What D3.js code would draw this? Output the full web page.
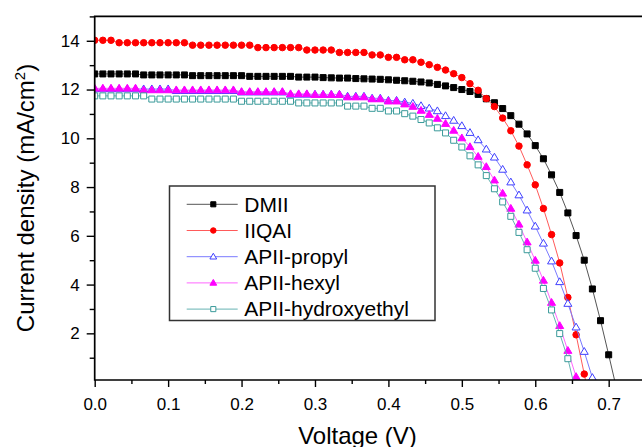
<!DOCTYPE html>
<html><head><meta charset="utf-8">
<script src="https://cdn.jsdelivr.net/npm/d3@7"></script>
<style>body{margin:0;background:#fff}svg{display:block}</style>
</head><body><svg id="c" width="642" height="447"></svg>
<script>
const voltage = [0, 0.0111, 0.0222, 0.0333, 0.0444, 0.0556, 0.0667, 0.0778, 0.0889, 0.1000,
  0.1111, 0.1222, 0.1333, 0.1444, 0.1556, 0.1667, 0.1778, 0.1889, 0.2000,
  0.2111, 0.2222, 0.2333, 0.2444, 0.2556, 0.2667, 0.2778, 0.2889, 0.3000,
  0.3111, 0.3222, 0.3333, 0.3444, 0.3556, 0.3667, 0.3778, 0.3889, 0.4000,
  0.4111, 0.4222, 0.4333, 0.4444, 0.4556, 0.4667, 0.4778, 0.4889, 0.5000,
  0.5111, 0.5222, 0.5333, 0.5444, 0.5556, 0.5667, 0.5778, 0.5889, 0.6000,
  0.6111, 0.6222, 0.6333, 0.6444, 0.6556, 0.6667, 0.6778, 0.6889, 0.7000, 0.7111];

const seriesNames = ["DMII", "IIQAI", "APII-propyl", "APII-hexyl", "APII-hydroxyethyl"];

const dmii = [12.64, 12.64, 12.64, 12.64, 12.64, 12.64,
  12.60, 12.60, 12.60, 12.60, 12.60, 12.60,
  12.57, 12.57, 12.57, 12.57, 12.57, 12.57, 12.57,
  12.54, 12.54, 12.54, 12.54, 12.54, 12.54,
  12.51, 12.51, 12.51,
  12.49, 12.48, 12.47, 12.47, 12.45, 12.44, 12.43, 12.42, 12.40, 12.38, 12.36, 12.34,
  12.31, 12.27, 12.21, 12.15, 12.08, 12.00, 11.92, 11.80, 11.62, 11.46, 11.22, 10.93,
  10.58, 10.18, 9.70, 9.16, 8.50, 7.78, 6.94, 6.01, 5.00, 3.82, 2.52, 1.12, -0.32];

const iiqai = [14.02, 14.02, 14.02,
  13.92, 13.92, 13.92, 13.92, 13.92, 13.92, 13.92, 13.92, 13.92,
  13.82, 13.82, 13.82, 13.82, 13.82, 13.82, 13.82, 13.82,
  13.72, 13.72, 13.72, 13.72, 13.72, 13.72,
  13.62, 13.62, 13.62, 13.62,
  13.52, 13.52, 13.52, 13.52,
  13.42, 13.42, 13.32, 13.32, 13.22, 13.22,
  13.12, 13.02, 12.91, 12.80, 12.65, 12.49, 12.24, 11.97, 11.63, 11.30, 10.83, 10.31,
  9.68, 8.91, 8.09, 7.12, 6.05, 4.89, 3.47, 1.94, 0.33, -1.30];

const propyl = [12.02, 12.02, 12.02, 12.02, 12.02, 12.02, 12.02, 12.02, 12.02, 12.02,
  11.95, 11.95, 11.95, 11.95, 11.95, 11.95, 11.95, 11.95,
  11.89, 11.89, 11.89, 11.89, 11.89, 11.89,
  11.80, 11.80, 11.80, 11.80, 11.80, 11.80, 11.80,
  11.72, 11.72, 11.72, 11.64, 11.64, 11.55, 11.55,
  11.48, 11.43, 11.33, 11.23, 11.12, 10.92, 10.73, 10.51, 10.23, 9.93, 9.55, 9.22,
  8.72, 8.20, 7.67, 7.05, 6.39, 5.69, 4.96, 4.11, 3.22, 2.25, 1.25, 0.18, -0.95];

const hexyl = [12.05, 12.05, 12.05, 12.05, 12.05, 12.05,
  11.98, 11.98, 11.98, 11.98, 11.98, 11.98, 11.98, 11.98, 11.98, 11.98, 11.98, 11.98,
  11.91, 11.91, 11.91, 11.91, 11.91, 11.91,
  11.82, 11.82, 11.82, 11.79, 11.79, 11.79, 11.79,
  11.69, 11.69, 11.69, 11.61, 11.61, 11.52, 11.52,
  11.40, 11.30, 11.14, 10.97, 10.81, 10.60, 10.32, 10.01, 9.65, 9.25, 8.83, 8.28,
  7.74, 7.12, 6.47, 5.74, 4.99, 4.17, 3.26, 2.31, 1.29, 0.22, -0.90];

const hydroxyethyl = [11.74, 11.74, 11.74, 11.74, 11.74, 11.74, 11.74,
  11.61, 11.61, 11.61, 11.61, 11.61, 11.61, 11.61, 11.61, 11.61, 11.61, 11.61,
  11.52, 11.52, 11.52, 11.52, 11.52, 11.52, 11.52,
  11.45, 11.45, 11.45, 11.45, 11.45, 11.45,
  11.32, 11.32, 11.32, 11.23, 11.23, 11.12, 11.12,
  11.01, 10.91, 10.77, 10.63, 10.43, 10.22, 9.92, 9.64, 9.28, 8.91, 8.47, 7.93,
  7.39, 6.80, 6.14, 5.43, 4.67, 3.84, 2.96, 1.99, 0.96, -0.45];

const xTickLabels = [0.0, 0.1, 0.2, 0.3, 0.4, 0.5, 0.6, 0.7];
const xMinorTicks = [0.05, 0.15, 0.25, 0.35, 0.45, 0.55, 0.65, 0.75];
const yTickLabels = [2, 4, 6, 8, 10, 12, 14];
const yMinorTicks = [1, 3, 5, 7, 9, 11, 13, 15];

const styles = [
  {shape: "square", fill: "#000", stroke: "#000", line: "#555", size: 6},
  {shape: "circle", fill: "#ff0000", stroke: "#ff0000", line: "#ff5a5a", size: 6.5},
  {shape: "triangle", fill: "#fff", stroke: "#4040ff", line: "#7a7aff", size: 8},
  {shape: "triangle", fill: "#ff00ff", stroke: "#ff00ff", line: "#ff66ff", size: 8},
  {shape: "square", fill: "#fff", stroke: "#3a9a9a", line: "#66b3b3", size: 6}
];
const allSeries = [dmii, iiqai, propyl, hexyl, hydroxyethyl];

const svg = d3.select("#c");
const x = d3.scaleLinear().domain([0, 0.75]).range([94.7, 645.4]);
const y = d3.scaleLinear().domain([0, 15]).range([382.1, 16.4]);
const plotBottom = 380;
const font = "'Liberation Sans', Arial, sans-serif";

svg.append("defs").append("clipPath").attr("id", "clip")
  .append("rect").attr("x", x(0)).attr("y", y(15)).attr("width", 600).attr("height", plotBottom - y(15));

function markerPath(shape, s) {
  if (shape === "square") return `M${-s/2},${-s/2}h${s}v${s}h${-s}Z`;
  if (shape === "triangle") { const h = s * 0.85; return `M0,${-h*0.6}L${s/2},${h*0.4}L${-s/2},${h*0.4}Z`; }
  return d3.symbol(d3.symbolCircle, Math.PI * (s/2) * (s/2))();
}

const plot = svg.append("g").attr("clip-path", "url(#clip)");
allSeries.forEach((vals, k) => {
  const st = styles[k];
  const pts = vals.map((v, i) => [voltage[i], v]);
  plot.append("path").datum(pts)
    .attr("fill", "none").attr("stroke", st.line).attr("stroke-width", 1)
    .attr("d", d3.line().x(d => x(d[0])).y(d => y(d[1])));
  plot.append("g").selectAll("path").data(pts).join("path")
    .attr("transform", d => `translate(${x(d[0])},${y(d[1])})`)
    .attr("d", markerPath(st.shape, st.size))
    .attr("fill", st.fill).attr("stroke", st.stroke).attr("stroke-width", 1);
});

// axes
const xAxis = svg.append("g").attr("transform", `translate(0,${plotBottom})`)
  .call(d3.axisBottom(x).tickValues(xTickLabels).tickSize(7).tickPadding(11).tickFormat(d3.format(".1f")));
const xMinor = svg.append("g").attr("transform", `translate(0,${plotBottom})`)
  .call(d3.axisBottom(x).tickValues(xMinorTicks).tickSize(4).tickFormat(""));
const yAxis = svg.append("g").attr("transform", `translate(${x(0)},0)`)
  .call(d3.axisLeft(y).tickValues(yTickLabels).tickSize(8).tickPadding(7).tickFormat(d3.format("d")));
const yMinor = svg.append("g").attr("transform", `translate(${x(0)},0)`)
  .call(d3.axisLeft(y).tickValues(yMinorTicks).tickSize(5).tickFormat(""));
[xAxis, xMinor, yAxis, yMinor].forEach(g => {
  g.select(".domain").remove();
  g.selectAll(".tick line").attr("stroke", "#000").attr("stroke-width", 1.4);
  g.selectAll("text").attr("font-family", font).attr("font-size", 17).attr("fill", "#000");
});

// frame
svg.append("path")
  .attr("d", `M${x(0)},${y(15)}H${x(0.75)}V${plotBottom}H${x(0)}Z`)
  .attr("fill", "none").attr("stroke", "#000").attr("stroke-width", 1.7);

// titles
svg.append("text").attr("x", 357.5).attr("y", 444).attr("text-anchor", "middle")
  .attr("font-family", font).attr("font-size", 24).text("Voltage (V)");
const yt = svg.append("text").attr("transform", "translate(33.5,198) rotate(-90)")
  .attr("text-anchor", "middle").attr("font-family", font).attr("font-size", 24);
yt.append("tspan").text("Current density (mA/cm");
yt.append("tspan").attr("font-size", 15).attr("dy", -9).text("2");
yt.append("tspan").attr("dy", 9).text(")");

// legend
const lg = svg.append("g");
lg.append("rect").attr("x", 169.5).attr("y", 186).attr("width", 265.5).attr("height", 134.5)
  .attr("fill", "#fff").attr("stroke", "#333").attr("stroke-width", 1.5);
seriesNames.forEach((name, k) => {
  const st = styles[k];
  const cy = 204.3 + k * 26.2;
  lg.append("line").attr("x1", 186.7).attr("x2", 237.7).attr("y1", cy).attr("y2", cy)
    .attr("stroke", st.line).attr("stroke-width", 1);
  lg.append("path").attr("transform", `translate(213.3,${cy})`)
    .attr("d", markerPath(st.shape, st.size * 0.85))
    .attr("fill", st.fill).attr("stroke", st.stroke).attr("stroke-width", 1);
  lg.append("text").attr("x", 244.3).attr("y", cy).attr("dy", "0.35em")
    .attr("font-family", font).attr("font-size", 21).text(name);
});
</script></body></html>
